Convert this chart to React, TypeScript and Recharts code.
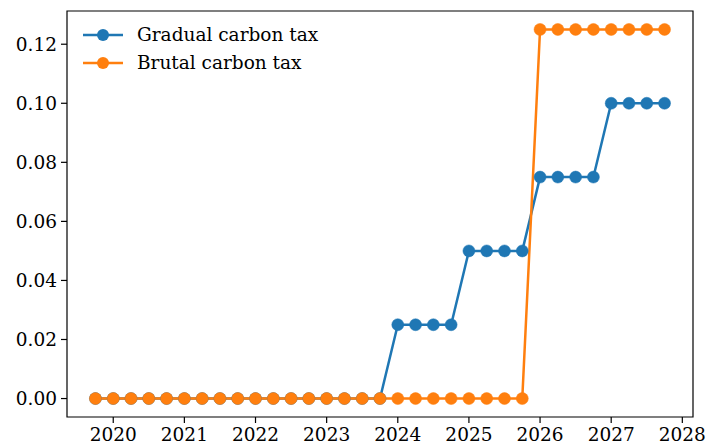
import { LineChart, Line, XAxis, YAxis, ReferenceArea } from "recharts";

const quarters = [
  2019.75, 2020, 2020.25, 2020.5, 2020.75, 2021, 2021.25, 2021.5, 2021.75,
  2022, 2022.25, 2022.5, 2022.75, 2023, 2023.25, 2023.5, 2023.75,
  2024, 2024.25, 2024.5, 2024.75, 2025, 2025.25, 2025.5, 2025.75,
  2026, 2026.25, 2026.5, 2026.75, 2027, 2027.25, 2027.5, 2027.75,
];

const gradualTax = [
  0, 0, 0, 0, 0, 0, 0, 0, 0, 0, 0, 0, 0, 0, 0, 0, 0,
  0.025, 0.025, 0.025, 0.025, 0.05, 0.05, 0.05, 0.05,
  0.075, 0.075, 0.075, 0.075, 0.1, 0.1, 0.1, 0.1,
];

const brutalTax = [
  0, 0, 0, 0, 0, 0, 0, 0, 0, 0, 0, 0, 0, 0, 0, 0, 0,
  0, 0, 0, 0, 0, 0, 0, 0,
  0.125, 0.125, 0.125, 0.125, 0.125, 0.125, 0.125, 0.125,
];

const xTicks = [2020, 2021, 2022, 2023, 2024, 2025, 2026, 2027, 2028];
const yTicks = [0, 0.02, 0.04, 0.06, 0.08, 0.1, 0.12];

const SERIES = [
  { key: "gradual", name: "Gradual carbon tax", color: "#1f77b4" },
  { key: "brutal", name: "Brutal carbon tax", color: "#ff7f0e" },
];

const FONT = "DejaVu Serif";
const FONT_SIZE = 18.5;
const X_DOMAIN: [number, number] = [2019.35, 2028.15];
const Y_DOMAIN: [number, number] = [-0.00625, 0.13125];

function LegendBox() {
  return (
    <svg width={280} height={64} style={{ position: "absolute", left: 83, top: 23 }}>
      {SERIES.map((s, i) => (
        <g key={s.key} transform={`translate(0, ${i * 28 + 12})`}>
          <line x1={0} x2={40} y1={0} y2={0} stroke={s.color} strokeWidth={2.5} />
          <circle cx={20} cy={0} r={6} fill={s.color} />
          <text x={54} y={0} dy="0.35em" fontFamily={FONT} fontSize={FONT_SIZE} fill="#000">
            {s.name}
          </text>
        </g>
      ))}
    </svg>
  );
}

export default function App() {
  const data = quarters.map((q, i) => ({
    t: q,
    gradual: gradualTax[i],
    brutal: brutalTax[i],
  }));

  const tick = { fontFamily: FONT, fontSize: FONT_SIZE, fill: "#000" };

  return (
    <div style={{ position: "absolute", left: 0, top: 0, width: 708, height: 447, background: "#fff" }}>
      <LineChart width={708} height={447} data={data} margin={{ top: 11, right: 15, bottom: 0, left: 0 }}>
        <XAxis
          dataKey="t"
          type="number"
          domain={X_DOMAIN}
          ticks={xTicks}
          allowDataOverflow
          height={30}
          tick={tick}
          tickSize={6}
          tickMargin={5}
          axisLine={false}
          tickLine={{ stroke: "#000", strokeWidth: 1.2 }}
        />
        <YAxis
          type="number"
          domain={Y_DOMAIN}
          ticks={yTicks}
          allowDataOverflow
          width={67}
          tick={tick}
          tickSize={6}
          tickMargin={4}
          axisLine={false}
          tickLine={{ stroke: "#000", strokeWidth: 1.2 }}
          tickFormatter={(v: number) => v.toFixed(2)}
        />
        <ReferenceArea
          x1={X_DOMAIN[0]}
          x2={X_DOMAIN[1]}
          y1={Y_DOMAIN[0]}
          y2={Y_DOMAIN[1]}
          fill="none"
          stroke="#000"
          strokeWidth={1.2}
          ifOverflow="visible"
        />
        {SERIES.map((s) => (
          <Line
            key={s.key}
            dataKey={s.key}
            name={s.name}
            type="linear"
            stroke={s.color}
            strokeWidth={2.5}
            dot={{ r: 6, fill: s.color, stroke: s.color, strokeWidth: 0.5 }}
            activeDot={false}
            isAnimationActive={false}
          />
        ))}
      </LineChart>
      <LegendBox />
    </div>
  );
}
